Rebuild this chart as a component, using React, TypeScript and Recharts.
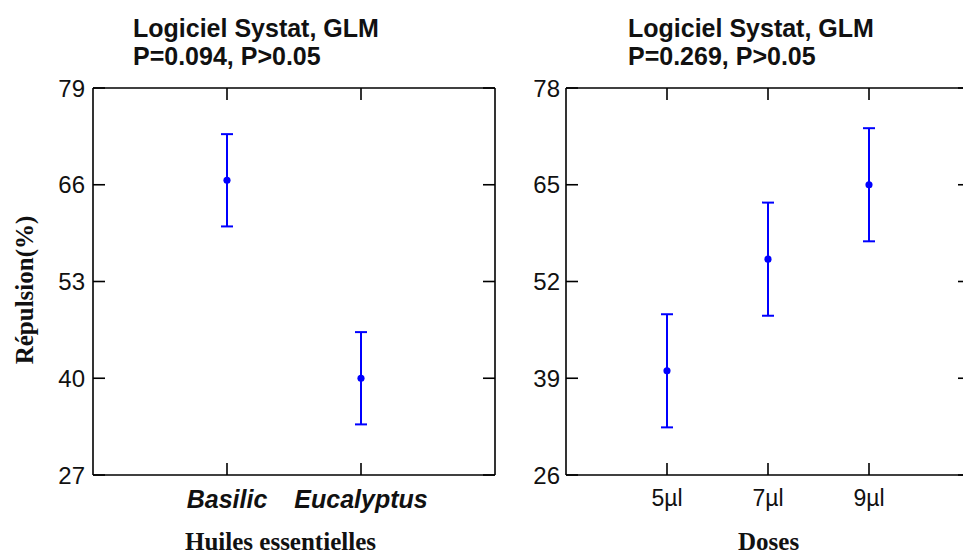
import React from 'react';
import { ComposedChart, Scatter, ErrorBar, XAxis, YAxis, ZAxis } from 'recharts';

// left panel: huiles essentielles
const oils = ['Basilic', 'Eucalyptus'];
const oilMeans = [66.6, 40.0];
const oilErr = [6.2, 6.2];
const oilTicks = [27, 40, 53, 66, 79];

// right panel: doses
const doses = ['5µl', '7µl', '9µl'];
const doseMeans = [40.0, 55.0, 65.0];
const doseErr = [7.6, 7.6, 7.6];
const doseTicks = [26, 39, 52, 65, 78];

const titles = ['P=0.094, P>0.05', 'P=0.269, P>0.05'];

const SANS = '"Liberation Sans", Arial, sans-serif';
const SERIF = '"Liberation Serif", "Times New Roman", serif';
const BLUE = '#0000ff';
const INK = '#111';
const TICK_LEN = 12;

const oilData = oils.map((name, i) => ({ x: i + 1, y: oilMeans[i], err: oilErr[i] }));
const doseData = doses.map((name, i) => ({ x: i + 1, y: doseMeans[i], err: doseErr[i] }));

const blank = () => '';

// label outside + tick mark pointing into the plot
const LeftTick = (props: any) => {
  const { x, y, payload, margin } = props;
  const ax = x + margin;
  return (
    <g>
      <line x1={ax} x2={ax + TICK_LEN} y1={y} y2={y} stroke="#000" strokeWidth={1.6} />
      <text x={x} y={y} dy="0.36em" textAnchor="end" fontFamily={SANS} fontSize={24} fill={INK}>
        {payload.value}
      </text>
    </g>
  );
};

const BottomTick = (props: any) => {
  const { x, y, payload, margin, labels, italic } = props;
  const ay = y - margin;
  return (
    <g>
      <line x1={x} x2={x} y1={ay} y2={ay - TICK_LEN} stroke="#000" strokeWidth={1.6} />
      <text
        x={x}
        y={y}
        dy="0.8em"
        textAnchor="middle"
        fontFamily={SANS}
        fontSize={italic ? 25 : 23}
        fontStyle={italic ? 'italic' : 'normal'}
        fontWeight={italic ? 'bold' : 'normal'}
        fill={INK}
      >
        {labels[payload.value - 1] ?? ''}
      </text>
    </g>
  );
};

interface PanelProps {
  data: { x: number; y: number; err: number }[];
  labels: string[];
  yTicks: number[];
  width: number;
  yWidth: number;
  yMargin: number;
  italic?: boolean;
}

const Panel: React.FC<PanelProps> = ({ data, labels, yTicks, width, yWidth, yMargin, italic }) => {
  const xMax = labels.length + 1;
  const xTicks = labels.map((_, i) => i + 1);
  const yDomain = [yTicks[0], yTicks[yTicks.length - 1]];
  const axisLine = { stroke: '#000', strokeWidth: 1.6 };
  const tickLine = { stroke: '#000', strokeWidth: 1.6 };
  const xMarginB = 13;
  return (
    <ComposedChart width={width} height={555} data={data} margin={{ top: 88, right: 5, bottom: 0, left: 0 }}>
      <XAxis
        xAxisId="b"
        type="number"
        dataKey="x"
        domain={[0, xMax]}
        allowDataOverflow
        ticks={xTicks}
        height={80}
        tickSize={0}
        tickMargin={xMarginB}
        axisLine={axisLine}
        tickLine={false}
        tick={<BottomTick margin={xMarginB} labels={labels} italic={italic} />}
        interval={0}
      />
      <XAxis
        xAxisId="t"
        orientation="top"
        mirror
        type="number"
        dataKey="x"
        domain={[0, xMax]}
        allowDataOverflow
        ticks={xTicks}
        tickFormatter={blank}
        height={1}
        tickSize={TICK_LEN}
        axisLine={axisLine}
        tickLine={tickLine}
        interval={0}
      />
      <YAxis
        yAxisId="l"
        type="number"
        dataKey="y"
        domain={yDomain}
        allowDataOverflow
        ticks={yTicks}
        width={yWidth}
        tickSize={0}
        tickMargin={yMargin}
        axisLine={axisLine}
        tickLine={false}
        tick={<LeftTick margin={yMargin} />}
        interval={0}
      />
      <YAxis
        yAxisId="r"
        orientation="right"
        mirror
        type="number"
        dataKey="y"
        domain={yDomain}
        allowDataOverflow
        ticks={yTicks}
        tickFormatter={blank}
        width={1}
        tickSize={TICK_LEN}
        axisLine={axisLine}
        tickLine={tickLine}
        interval={0}
      />
      <ZAxis range={[40, 40]} />
      <Scatter xAxisId="b" yAxisId="l" dataKey="y" fill={BLUE} isAnimationActive={false}>
        <ErrorBar dataKey="err" direction="y" width={6} stroke={BLUE} strokeWidth={2} />
      </Scatter>
    </ComposedChart>
  );
};

const titleStyle: React.CSSProperties = {
  position: 'absolute',
  fontFamily: SANS,
  fontWeight: 'bold',
  fontSize: 25,
  lineHeight: '28px',
  color: INK,
  whiteSpace: 'nowrap',
};

const axisTitleStyle: React.CSSProperties = {
  position: 'absolute',
  fontFamily: SERIF,
  fontWeight: 'bold',
  fontSize: 25,
  lineHeight: '22px',
  color: INK,
  whiteSpace: 'nowrap',
};

export default function App() {
  return (
    <div style={{ position: 'absolute', left: 0, top: 0, width: 963, height: 555, overflow: 'hidden', background: '#fff' }}>
      <div style={{ position: 'absolute', left: 0, top: 0 }}>
        <Panel data={oilData} labels={oils} yTicks={oilTicks} width={500} yWidth={93} yMargin={8} italic />
      </div>
      <div style={{ position: 'absolute', left: 480, top: 0 }}>
        <Panel data={doseData} labels={doses} yTicks={doseTicks} width={495} yWidth={86} yMargin={6} />
      </div>

      <div style={{ ...titleStyle, left: 133, top: 14 }}>
        Logiciel Systat, GLM
        <br />
        {titles[0]}
      </div>
      <div style={{ ...titleStyle, left: 628, top: 14 }}>
        Logiciel Systat, GLM
        <br />
        {titles[1]}
      </div>

      <div style={{ ...axisTitleStyle, left: 185, top: 531 }}>Huiles essentielles</div>
      <div style={{ ...axisTitleStyle, left: 738, top: 531 }}>Doses</div>

      <div
        style={{
          ...axisTitleStyle,
          left: 25 - 100,
          top: 290 - 15,
          width: 200,
          height: 30,
          lineHeight: '30px',
          textAlign: 'center',
          transform: 'rotate(-90deg)',
        }}
      >
        Répulsion(%)
      </div>
    </div>
  );
}
